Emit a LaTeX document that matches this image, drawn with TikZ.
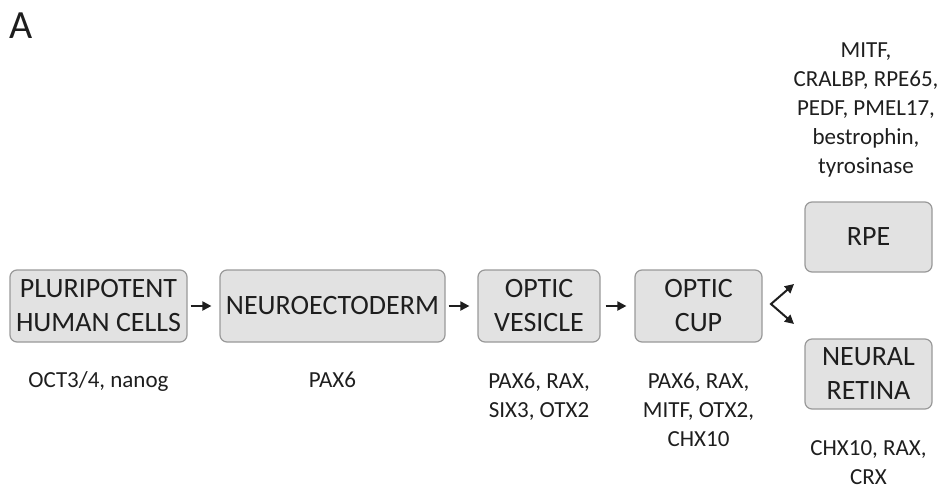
\documentclass[tikz,border=0pt]{standalone}
\usepackage{fontspec}
\setmainfont{Carlito}
\usetikzlibrary{arrows.meta}
\definecolor{boxfill}{HTML}{E2E2E2}
\definecolor{boxline}{HTML}{999999}
\definecolor{ink}{HTML}{1E1E1E}
\tikzset{
	stage/.style={draw=boxline,fill=boxfill,rounded corners=7pt,line width=1.2pt,
		align=center,text=ink,inner sep=0pt,font=\fontsize{28}{34}\selectfont},
	marker/.style={align=center,text=ink,inner sep=0pt,font=\fontsize{23}{29}\selectfont},
	flow/.style={-{Triangle[length=9pt,width=9pt,fill=ink]},line width=2pt,draw=ink},
}
\begin{document}
\begin{tikzpicture}[x=1pt,y=-1pt]
	\useasboundingbox (0,0) rectangle (943,491);
	\node[text=ink,font=\fontsize{40}{40}\selectfont,anchor=base west,inner sep=0pt] (title) at (9,38) {A};
	% stages
	\node[stage,minimum width=177pt,minimum height=72pt] (PHC) at (98.5,306) {PLURIPOTENT\\HUMAN CELLS};
	\node[stage,minimum width=225pt,minimum height=72pt] (NE) at (332.5,306) {NEUROECTODERM};
	\node[stage,minimum width=122pt,minimum height=72pt] (OV) at (539,306) {OPTIC\\VESICLE};
	\node[stage,minimum width=127pt,minimum height=72pt] (OC) at (698.5,306) {OPTIC\\CUP};
	\node[stage,minimum width=127pt,minimum height=70pt] (RPE) at (868.5,237) {RPE};
	\node[stage,minimum width=127pt,minimum height=70pt] (NR) at (868.5,374) {NEURAL\\RETINA};
	% markers
	\node[marker,anchor=base] (mPHC) at (98.5,387) {OCT3/4, nanog};
	\node[marker,anchor=base] (mNE) at (332.5,387) {PAX6};
	\node[marker,anchor=north] (mOV) at (539,373) {PAX6, RAX,\\SIX3, OTX2};
	\node[marker,anchor=north] (mOC) at (698.5,373) {PAX6, RAX,\\MITF, OTX2,\\CHX10};
	\node[marker,anchor=north] (mRPE) at (866,43) {MITF,\\CRALBP, RPE65,\\PEDF, PMEL17,\\bestrophin,\\tyrosinase};
	\node[marker,anchor=north] (mNR) at (868.5,440) {CHX10, RAX,\\CRX};
	% arrows
	\draw[flow,shorten <=3pt,shorten >=8pt] (PHC) -- (NE);
	\draw[flow,shorten <=3pt,shorten >=8pt] (NE) -- (OV);
	\draw[flow,shorten <=5pt,shorten >=8pt] (OV) -- (OC);
	\coordinate (fork) at (771,304);
	\coordinate (up) at (794,284);
	\coordinate (down) at (794,324);
	\draw[flow,{Triangle[length=9pt,width=9pt,fill=ink]}-{Triangle[length=9pt,width=9pt,fill=ink]},line join=miter] (up) -- (fork) -- (down);
\end{tikzpicture}
\end{document}
